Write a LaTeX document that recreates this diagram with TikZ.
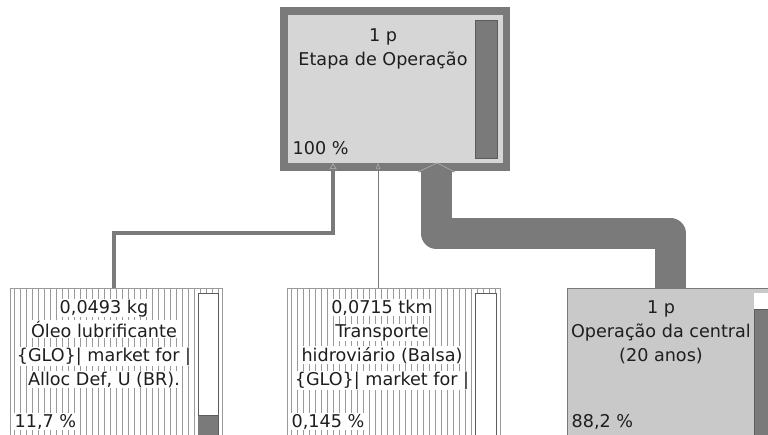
\documentclass[tikz,border=0pt]{standalone}
\usepackage{fontspec}
\setmainfont{DejaVu Sans}
\usetikzlibrary{calc,arrows.meta}
\definecolor{dk}{HTML}{7A7A7A}
\definecolor{lt}{HTML}{D6D6D6}
\definecolor{midg}{HTML}{C9C9C9}
\definecolor{txt}{HTML}{1E1E1E}
\definecolor{hatchc}{HTML}{9A9A9A}
\definecolor{edge}{HTML}{5C5C5C}
\definecolor{tipedge}{HTML}{B0B0B0}
\tikzset{
  boxnode/.style={inner sep=0pt, outer sep=0pt, anchor=north west},
  barnode/.style={inner sep=0pt, outer sep=0pt, anchor=north west, draw=edge, line width=0.8pt},
  lbl/.style={anchor=base, inner sep=0.5pt, text=txt},
  lblw/.style={lbl, fill=white},
  pct/.style={anchor=base west, inner sep=0.5pt, text=txt},
  hatchline/.style={draw=hatchc, line width=0.6pt},
  connA/.style={draw=dk, line width=3.5pt, -{Triangle[length=6pt,width=7pt,fill=dk,color=tipedge,line width=0.6pt]}},
  connB/.style={draw=dk, line width=0.8pt, -{Triangle[length=6pt,width=4.5pt,fill=dk,color=tipedge,line width=0.5pt]}},
  band/.style={draw=dk, line width=31pt, line join=round}
}
\begin{document}
\begin{tikzpicture}[x=1pt,y=-1pt,font=\fontsize{17.6}{24}\selectfont]
\useasboundingbox (0,0) rectangle (768,434);
\fill[white] (0,0) rectangle (768,434);

% ---- top box
\fill[dk] (280,7) rectangle (510,171);
\node[boxnode, fill=lt, minimum width=215pt, minimum height=148pt] (top) at (288,15) {};
\node[barnode, fill=dk, minimum width=22pt, minimum height=138pt] (topbar) at (475,20) {};
\node[lbl] (t1) at (383,41) {1 p};
\node[lbl] (t2) at (383,65) {Etapa de Operação};
\node[pct] (t3) at (292,154) {100 \%};

% ---- left box (hatched)
\node[boxnode, fill=white, minimum width=212pt, minimum height=152pt] (oleo) at (10,288) {};
\begin{scope}
\clip (10,288) rectangle (222,440);
\foreach \x in {14,20,...,222} \draw[hatchline] (\x,289) -- (\x,440);
\end{scope}
\draw[hatchc, line width=0.8pt] (10,440) -- (10,288) -- (222,288) -- (222,440);
\node[barnode, fill=white, minimum width=20pt, minimum height=147pt] (oleobar) at (198,293) {};
\fill[dk] (198,415) rectangle (218,440);
\draw[edge, line width=0.8pt] (198,415) -- (218,415);
\node[lblw] (o1) at (104,313) {0,0493 kg};
\node[lblw] (o2) at (104,337) {Óleo lubrificante};
\node[lblw] (o3) at (104,361) {\{GLO\}| market for |};
\node[lblw] (o4) at (104,385) {Alloc Def, U (BR).};
\node[pct, fill=white] (o5) at (14,427) {11,7 \%};

% ---- middle box (hatched)
\node[boxnode, fill=white, minimum width=213pt, minimum height=152pt] (transp) at (287,288) {};
\begin{scope}
\clip (287,288) rectangle (500,440);
\foreach \x in {291,297,...,500} \draw[hatchline] (\x,289) -- (\x,440);
\end{scope}
\draw[hatchc, line width=0.8pt] (287,440) -- (287,288) -- (500,288) -- (500,440);
\node[barnode, fill=white, minimum width=21pt, minimum height=147pt] (transpbar) at (475,293) {};
\node[lblw] (m1) at (382,313) {0,0715 tkm};
\node[lblw] (m2) at (382,337) {Transporte};
\node[lblw] (m3) at (382,361) {hidroviário (Balsa)};
\node[lblw] (m4) at (382,385) {\{GLO\}| market for |};
\node[pct, fill=white] (m5) at (291,427) {0,145 \%};

% ---- right box
\node[boxnode, fill=midg, draw=dk, line width=1pt, minimum width=208pt, minimum height=152pt] (oper) at (567,288) {};
\node[barnode, fill=dk, minimum width=21pt, minimum height=147pt] (operbar) at (754,293) {};
\fill[white] (754.4,293.4) rectangle (775,309);
\draw[edge, line width=0.8pt] (754,309) -- (775,309);
\node[lbl] (r1) at (661,313) {1 p};
\node[lbl] (r2) at (661,337) {Operação da central};
\node[lbl] (r3) at (661,361) {(20 anos)};
\node[pct] (r4) at (571,427) {88,2 \%};

% ---- connectors
\coordinate (jl) at (333,233);
\draw[connA] ($(oleo.north)+(-2,0)$) |- (jl) -- (jl |- top.south);
\coordinate (jm) at (378,233);
\draw[connB] (transp.north -| jm) -- (jm |- top.south);
\coordinate (jt) at (436,233);
\draw[band] (oper.north -| 670,0) |- (jt) -- ($(jt |- top.south)+(0,8)$);
\fill[dk] (418,172) -- (437,163) -- (455,172) -- cycle;
\draw[tipedge, line width=0.6pt] (418,172) -- (437,163) -- (455,172);
\end{tikzpicture}
\end{document}
